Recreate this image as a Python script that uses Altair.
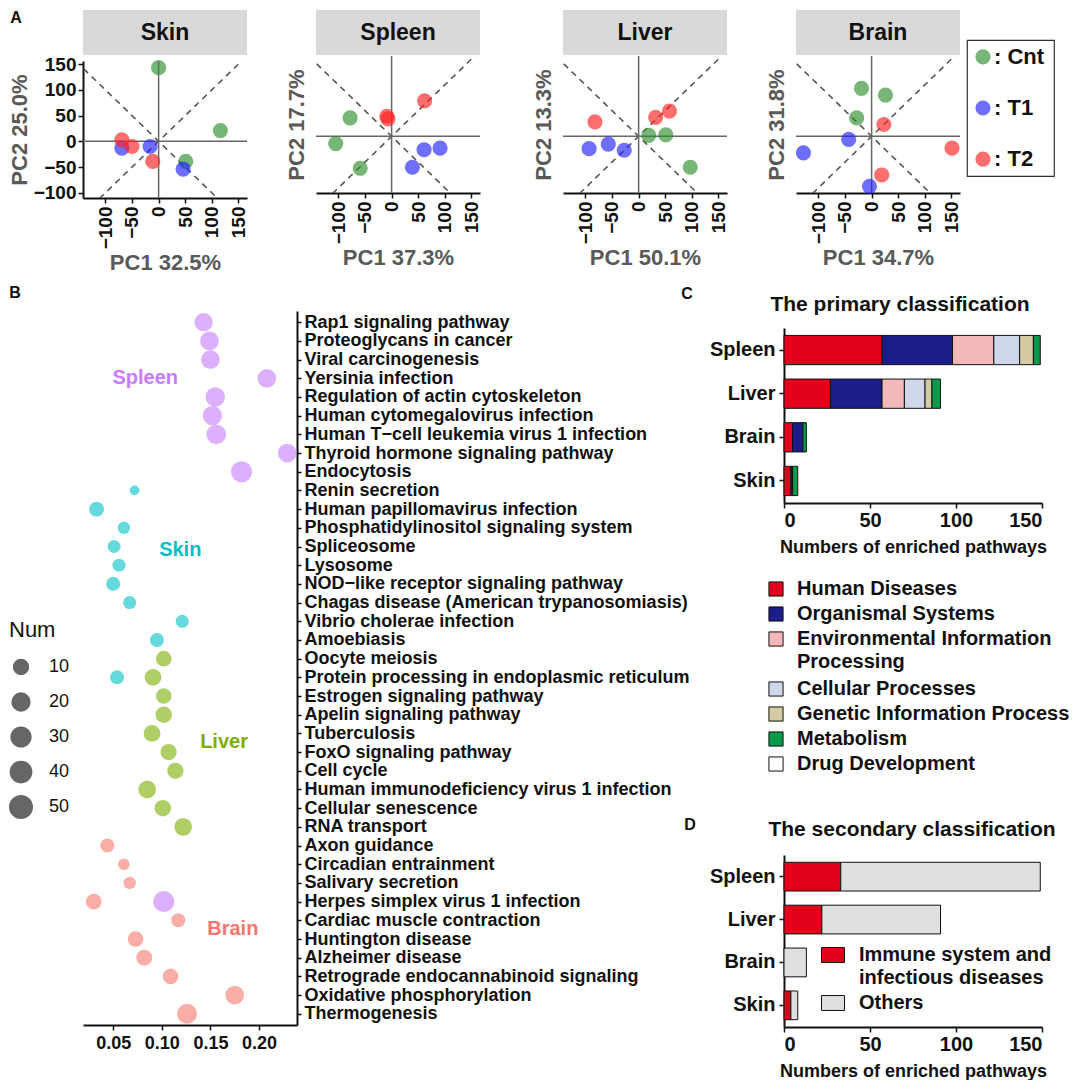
import altair as alt
import pandas as pd

FONT = "Liberation Sans"
BLACK = "#111111"
TGREY = "#595959"

# ---------------- Panel A: PCA ----------------
pca_tissues = ["Skin", "Spleen", "Liver", "Brain"]
pc1_titles = ["PC1 32.5%", "PC1 37.3%", "PC1 50.1%", "PC1 34.7%"]
pc2_titles = ["PC2 25.0%", "PC2 17.7%", "PC2 13.3%", "PC2 31.8%"]
pca_groups = ["Cnt", "Cnt", "Cnt", "T1", "T1", "T1", "T2", "T2", "T2"]
skin_pc1 = [0, 116, 51, -69, -16, 46, -69, -50, -11]
skin_pc2 = [143, 21, -39, -13, -10, -54, 3, -10, -39]
spleen_pc1 = [-78, -105, -59, 61, 91, 39, -9, -7, 62]
spleen_pc2 = [36, -14, -62, -26, -23, -60, 39, 34, 69]
liver_pc1 = [19, 51, 97, -93, -57, -27, -82, 32, 58]
liver_pc2 = [2, 3, -60, -24, -15, -27, 28, 37, 49]
brain_pc1 = [-19, 26, -28, -128, -43, -4, 23, 151, 19]
brain_pc2 = [93, 80, 36, -32, -6, -97, 23, -23, -75]
pca_ticks = [-100, -50, 0, 50, 100, 150]
pca_x_domain = [-142, 166]
pca_y_domain = [-110, 156]
diag_extent = 200
group_names = ["Cnt", "T1", "T2"]
group_colors = ["#2f8f2f", "#2020ff", "#ff2020"]

# ---------------- Panel B: enrichment dots ----------------
b_pathways = [
    "Rap1 signaling pathway", "Proteoglycans in cancer", "Viral carcinogenesis",
    "Yersinia infection", "Regulation of actin cytoskeleton",
    "Human cytomegalovirus infection", "Human T\u2212cell leukemia virus 1 infection",
    "Thyroid hormone signaling pathway", "Endocytosis", "Renin secretion",
    "Human papillomavirus infection", "Phosphatidylinositol signaling system",
    "Spliceosome", "Lysosome", "NOD\u2212like receptor signaling pathway",
    "Chagas disease (American trypanosomiasis)", "Vibrio cholerae infection",
    "Amoebiasis", "Oocyte meiosis", "Protein processing in endoplasmic reticulum",
    "Estrogen signaling pathway", "Apelin signaling pathway", "Tuberculosis",
    "FoxO signaling pathway", "Cell cycle", "Human immunodeficiency virus 1 infection",
    "Cellular senescence", "RNA transport", "Axon guidance", "Circadian entrainment",
    "Salivary secretion", "Herpes simplex virus 1 infection",
    "Cardiac muscle contraction", "Huntington disease", "Alzheimer disease",
    "Retrograde endocannabinoid signaling", "Oxidative phosphorylation", "Thermogenesis",
]
b_tissues = ["Spleen", "Skin", "Liver", "Brain"]
b_colors = ["#C77CFF", "#00BFC4", "#7CAE00", "#F8766D"]
spleen_b_path = b_pathways[0:9] + ["Herpes simplex virus 1 infection"]
spleen_b_ratio = [0.143, 0.149, 0.150, 0.208, 0.155, 0.152, 0.156, 0.229, 0.182, 0.102]
spleen_b_num = [22, 24, 24, 24, 28, 27, 30, 24, 39, 39]
skin_b_path = b_pathways[9:18] + ["Protein processing in endoplasmic reticulum"]
skin_b_ratio = [0.072, 0.033, 0.061, 0.051, 0.056, 0.050, 0.067, 0.121, 0.095, 0.054]
skin_b_num = [2, 10, 5, 6, 6, 8, 6, 6, 8, 8]
liver_b_path = b_pathways[18:28]
liver_b_ratio = [0.102, 0.091, 0.102, 0.102, 0.090, 0.107, 0.114, 0.085, 0.101, 0.122]
liver_b_num = [12, 16, 12, 15, 16, 14, 14, 20, 15, 20]
brain_b_path = b_pathways[28:38]
brain_b_ratio = [0.044, 0.061, 0.067, 0.030, 0.117, 0.073, 0.082, 0.109, 0.175, 0.126]
brain_b_num = [8, 4, 5, 12, 8, 12, 13, 12, 24, 31]
b_label_text = ["Spleen", "Skin", "Liver", "Brain"]
b_label_x = [0.083, 0.119, 0.164, 0.173]
b_label_row = ["Yersinia infection", "Spliceosome", "Tuberculosis", "Cardiac muscle contraction"]
b_size_legend = [10, 20, 30, 40, 50]

# ---------------- Panel C: primary classification ----------------
c_tissues = ["Spleen", "Liver", "Brain", "Skin"]
c_categories = ["Human Diseases", "Organismal Systems",
                "Environmental Information Processing", "Cellular Processes",
                "Genetic Information Process", "Metabolism", "Drug Development"]
c_colors = ["#e3001b", "#1c1c8a", "#f4b8b8", "#cfd8ea", "#d5cba3", "#0b9a4a", "#ffffff"]
c_human = [57, 27, 5, 4]
c_organismal = [41, 30, 6, 1]
c_environmental = [24, 13, 0, 0]
c_cellular = [15, 12, 0, 0]
c_genetic = [8, 4, 0, 0]
c_metabolism = [4, 5, 2, 3]
c_drug = [0, 0, 0, 0]

# ---------------- Panel D: secondary classification ----------------
d_categories = ["Immune system and infectious diseases", "Others"]
d_legend_labels = ["Immune system and\ninfectious diseases", "Others"]
d_colors = ["#e3001b", "#e0e0e0"]
d_immune = [33, 22, 0, 4]
d_others = [116, 69, 13, 4]
bar_ticks = [0, 50, 100, 150]


def note(txt, x, y, size=16, align="center", opacity=1):
    return alt.Chart(pd.DataFrame({"t": [txt]})).mark_text(
        fontSize=size, fontWeight="bold", color=BLACK, align=align, baseline="middle",
        opacity=opacity
    ).encode(x=alt.value(x), y=alt.value(y), text="t:N")


# ---- A ----
def pca_header(i):
    df = pd.DataFrame({"t": [pca_tissues[i]]})
    rect = alt.Chart(df).mark_rect(color="#d9d9d9").encode(
        x=alt.X("t:N", axis=None, scale=alt.Scale(paddingInner=0, paddingOuter=0)))
    txt = alt.Chart(df).mark_text(fontSize=23, fontWeight="bold", color=BLACK).encode(
        x=alt.X("t:N", axis=None), text="t:N")
    layers = [rect, txt]
    if i == 0:
        layers.append(note("A", -67, 8))
    return alt.layer(*layers).properties(width=164, height=45)


def pca_plot(i, pc1, pc2):
    df = pd.DataFrame({"PC1": pc1, "PC2": pc2, "group": pca_groups})
    xs = alt.Scale(domain=pca_x_domain, nice=False, zero=False)
    ys = alt.Scale(domain=pca_y_domain, nice=False, zero=False)
    xaxis = alt.Axis(title=pc1_titles[i], values=pca_ticks, labelAngle=270, labelFontSize=19,
                     labelFontWeight="bold", labelColor=BLACK, titleFontSize=22,
                     titleFontWeight="bold", titleColor=TGREY, domainColor=BLACK, domainWidth=2,
                     tickColor=BLACK, tickWidth=1.5, tickSize=5, labelPadding=3,
                     titlePadding=4, grid=False, labelOverlap=False)
    if i == 0:
        yaxis = alt.Axis(title=pc2_titles[i], values=pca_ticks, labelFontSize=19,
                         labelFontWeight="bold", labelColor=BLACK, titleFontSize=22,
                         titleFontWeight="bold", titleColor=TGREY, domainColor=BLACK,
                         domainWidth=2, tickColor=BLACK, tickWidth=1.5, tickSize=5,
                         labelPadding=2, titlePadding=2, grid=False, labelOverlap=False)
    else:
        yaxis = alt.Axis(title=pc2_titles[i], labels=False, ticks=False, domain=False, grid=False,
                         titleFontSize=22, titleFontWeight="bold", titleColor=TGREY,
                         titlePadding=8)
    X = alt.X("PC1:Q", scale=xs, axis=xaxis)
    Y = alt.Y("PC2:Q", scale=ys, axis=yaxis)
    e = diag_extent
    diag = pd.DataFrame({"PC1": [-e, e, -e, e], "PC2": [-e, e, e, -e],
                         "line": ["up", "up", "down", "down"]})
    lines = alt.Chart(diag).mark_line(color="#555555", strokeDash=[6, 5], strokeWidth=1.6,
                                      clip=True).encode(x=X, y=Y, detail="line:N")
    vrule = alt.Chart(pd.DataFrame({"PC1": [0]})).mark_rule(
        color="#666666", strokeWidth=1.5).encode(x=X)
    hrule = alt.Chart(pd.DataFrame({"PC2": [0]})).mark_rule(
        color="#666666", strokeWidth=1.5).encode(y=Y)
    pts = alt.Chart(df).mark_circle(size=230, opacity=0.65).encode(
        x=X, y=Y,
        color=alt.Color("group:N", scale=alt.Scale(domain=group_names, range=group_colors),
                        legend=None))
    return alt.layer(lines, vrule, hrule, pts).properties(width=164, height=137)


pca_data = [(skin_pc1, skin_pc2), (spleen_pc1, spleen_pc2), (liver_pc1, liver_pc2),
            (brain_pc1, brain_pc2)]
panels = [alt.vconcat(pca_header(i), pca_plot(i, a, b), spacing=0)
          for i, (a, b) in enumerate(pca_data)]

legA_df = pd.DataFrame({"group": group_names, "label": [": " + g for g in group_names]})
legA_y = alt.Y("group:N", axis=None, sort=group_names, scale=alt.Scale(padding=0.33))
legA_pts = alt.Chart(legA_df).mark_circle(size=230, opacity=0.65).encode(
    x=alt.value(16), y=legA_y,
    color=alt.Color("group:N", scale=alt.Scale(domain=group_names, range=group_colors), legend=None))
legA_txt = alt.Chart(legA_df).mark_text(align="left", fontSize=22, fontWeight="bold",
                                        color=BLACK).encode(
    x=alt.value(27), y=legA_y, text="label:N")
legA = alt.layer(legA_pts, legA_txt).properties(
    width=87, height=136, view=alt.ViewBackground(stroke="#333333", strokeWidth=1.2))
spacerA = alt.Chart(pd.DataFrame({"a": [0]})).mark_point(opacity=0).properties(width=87, height=29)

top = alt.hconcat(
    alt.hconcat(alt.hconcat(panels[0], panels[1], spacing=36),
                alt.hconcat(panels[2], panels[3], spacing=36), spacing=50),
    alt.vconcat(spacerA, legA, spacing=0), spacing=4)

# ---- B ----
b_rows = []
for tissue, paths, ratios, nums in [("Spleen", spleen_b_path, spleen_b_ratio, spleen_b_num),
                                    ("Skin", skin_b_path, skin_b_ratio, skin_b_num),
                                    ("Liver", liver_b_path, liver_b_ratio, liver_b_num),
                                    ("Brain", brain_b_path, brain_b_ratio, brain_b_num)]:
    for p, r, n in zip(paths, ratios, nums):
        b_rows.append({"pathway": p, "ratio": r, "num": n, "tissue": tissue})
df_b = pd.DataFrame(b_rows)
xs_b = alt.Scale(domain=[0.019, 0.239], nice=False, zero=False)
ys_b = alt.Scale(domain=b_pathways, padding=0.6)
y_axis_b = alt.Axis(orient="right", title=None, labelFontSize=18, labelFontWeight="bold",
                    labelColor=BLACK, labelLimit=700, domainColor=BLACK, domainWidth=2,
                    tickColor=BLACK, tickSize=4, tickWidth=1.5, labelPadding=3, grid=False,
                    labelOverlap=False)
x_axis_b = alt.Axis(title=None, values=[0.05, 0.10, 0.15, 0.20], format=".2f", labelFontSize=18,
                    labelFontWeight="bold", labelColor=BLACK, domainColor=BLACK, domainWidth=2,
                    tickColor=BLACK, tickSize=5, tickWidth=1.5, labelPadding=4, grid=False,
                    labelOverlap=False)
dots = alt.Chart(df_b).mark_circle(opacity=0.6).encode(
    x=alt.X("ratio:Q", scale=xs_b, axis=x_axis_b),
    y=alt.Y("pathway:N", scale=ys_b, axis=y_axis_b),
    color=alt.Color("tissue:N", scale=alt.Scale(domain=b_tissues, range=b_colors), legend=None),
    size=alt.Size("num:Q", scale=alt.Scale(type="sqrt", domain=[1, 55], range=[64, 531]),
                  legend=alt.Legend(title="Num", orient="none", legendX=-74, legendY=309,
                                    values=b_size_legend, symbolFillColor="#666666",
                                    symbolStrokeColor="#666666", symbolOpacity=1,
                                    titleFontSize=22, titleFontWeight="normal", titleColor=BLACK,
                                    labelFontSize=18, labelColor=BLACK, clipHeight=26,
                                    rowPadding=9, labelOffset=16, titlePadding=12)))
b_label_dy = [0, 3, 9, 9]
b_labels = []
for txt, xv, row, col, dy in zip(b_label_text, b_label_x, b_label_row, b_colors, b_label_dy):
    d = pd.DataFrame({"pathway": [row], "ratio": [xv], "label": [txt]})
    b_labels.append(alt.Chart(d).mark_text(fontSize=20, fontWeight="bold", color=col, dy=dy).encode(
        x=alt.X("ratio:Q", scale=xs_b), y=alt.Y("pathway:N", scale=ys_b), text="label:N"))
chartB = alt.layer(dots, *b_labels, note("B", -68, -18), note("C", 604, -17),
                   note("D", 607, 514)).properties(width=214, height=714)


# ---- C & D ----
def class_bars(tissues, cats, colors, series):
    rows = []
    for ci, (cat, vals) in enumerate(zip(cats, series)):
        for t, v in zip(tissues, vals):
            if v > 0:
                rows.append({"tissue": t, "category": cat, "value": v, "idx": ci})
    df = pd.DataFrame(rows)
    return alt.Chart(df).mark_bar(stroke=BLACK, strokeWidth=1).encode(
        y=alt.Y("tissue:N", sort=tissues,
                scale=alt.Scale(domain=tissues, paddingInner=0.33, paddingOuter=0.17),
                axis=alt.Axis(title=None, labelFontSize=20, labelFontWeight="bold",
                              labelColor=BLACK, domainColor=BLACK, domainWidth=2,
                              tickColor=BLACK, tickSize=5, tickWidth=1.5, labelPadding=4)),
        x=alt.X("value:Q", stack="zero", scale=alt.Scale(domain=[0, 150], nice=False),
                axis=alt.Axis(title="Numbers of enriched pathways", values=bar_ticks,
                              labelFontSize=20, labelFontWeight="bold", labelColor=BLACK,
                              titleFontSize=18, titleFontWeight="bold", titleColor=BLACK,
                              domainColor=BLACK, domainWidth=2, tickColor=BLACK, tickSize=5,
                              tickWidth=1.5, labelPadding=2, titlePadding=8, grid=False,
                              labelOverlap=False)),
        color=alt.Color("category:N", scale=alt.Scale(domain=cats, range=colors), legend=None),
        order=alt.Order("idx:Q"))


# heading strip for C (first cell of the right column)
headC = note("The primary classification", 116, -6, size=21).properties(width=258, height=7)

barsC = class_bars(c_tissues, c_categories, c_colors,
                   [c_human, c_organismal, c_environmental, c_cellular, c_genetic,
                    c_metabolism, c_drug])
chartC = barsC.properties(width=258, height=175)

# C legend (own small chart, one slot per text line)
c_leg_labels = [c.replace("Information Processing", "Information\nProcessing") for c in c_categories]
c_slots = []
s = 0
for lab in c_leg_labels:
    c_slots.append(s)
    s += lab.count("\n") + 1
legC_df = pd.DataFrame({"category": c_categories, "label": c_leg_labels, "slot": c_slots})
legC_y = alt.Y("slot:Q", axis=None, scale=alt.Scale(domain=[-0.92, 8.8], reverse=True, nice=False,
                                                      zero=False))
legC_sq = alt.Chart(legC_df).mark_square(size=200, filled=True, opacity=1, stroke=BLACK,
                                         strokeWidth=1).encode(
    x=alt.value(-8), y=legC_y,
    fill=alt.Fill("category:N", scale=alt.Scale(domain=c_categories, range=c_colors), legend=None))
legC_tx = alt.Chart(legC_df).mark_text(align="left", baseline="top", dy=-10, lineBreak="\n",
                                       lineHeight=23, fontSize=20, fontWeight="bold",
                                       color=BLACK).encode(
    x=alt.value(13), y=legC_y, text="label:N")
legC = alt.layer(legC_sq, legC_tx).properties(width=258, height=243)

barsD = class_bars(c_tissues, d_categories, d_colors, [d_immune, d_others])
rect_shape = "M-1,-0.65H1V0.65H-1Z"
d_leg_layers = []
slot = 0
for lab, col in zip(d_legend_labels, d_colors):
    ypx = 100 + 24 * slot
    one = pd.DataFrame({"label": [lab]})
    d_leg_layers.append(alt.Chart(one).mark_point(shape=rect_shape, size=529, filled=True,
                                                  fill=col, stroke=BLACK, strokeWidth=1,
                                                  opacity=1).encode(
        x=alt.value(49), y=alt.value(ypx)))
    d_leg_layers.append(alt.Chart(one).mark_text(align="left", baseline="top", dy=-10,
                                                 lineBreak="\n", lineHeight=23, fontSize=20,
                                                 fontWeight="bold", color=BLACK).encode(
        x=alt.value(75), y=alt.value(ypx), text="label:N"))
    slot += lab.count("\n") + 1
chartD = alt.layer(barsD, note("The secondary classification", 128, -25, size=21),
                   *d_leg_layers).properties(width=258, height=172)

rightcol = alt.vconcat(headC, chartC, legC, chartD, spacing=10).resolve_scale(
    color="independent", fill="independent")
bottom = alt.hconcat(chartB, rightcol, spacing=13).resolve_scale(
    color="independent", size="independent", fill="independent")

chart = alt.vconcat(top, bottom, spacing=11).resolve_scale(
    color="independent", size="independent", fill="independent").properties(
    padding={"left": 0, "top": 2, "right": 0, "bottom": 0}
).configure(font=FONT).configure_view(stroke=None).configure_axis(
    labelFont=FONT, titleFont=FONT).configure_text(font=FONT).configure_title(
    font=FONT).configure_legend(labelFont=FONT, titleFont=FONT)

chart.save("out.html", embed_options={"renderer": "svg", "actions": False})
